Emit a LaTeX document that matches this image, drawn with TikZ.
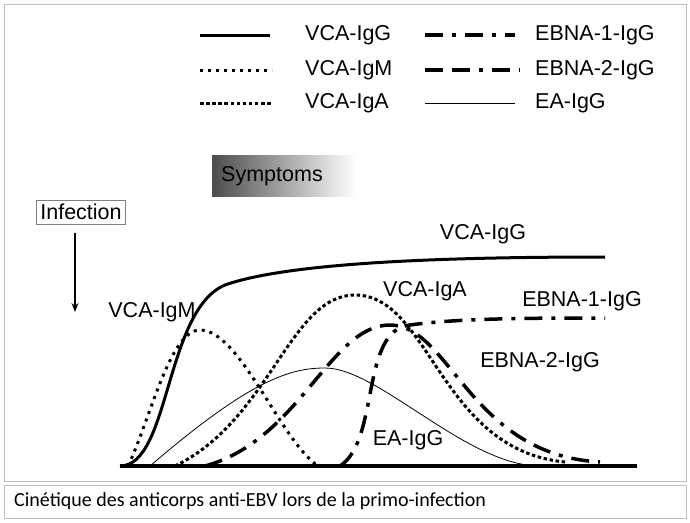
\documentclass[tikz,border=0pt]{standalone}
\usepackage{fontspec}
\setmainfont{Liberation Sans}
\newfontfamily\capfont{Carlito}
\usetikzlibrary{arrows.meta,positioning}

\tikzset{
  igg/.style={line width=3pt},
  igm/.style={line width=3pt,dash pattern=on 3pt off 5pt},
  iga/.style={line width=3pt,dash pattern=on 3.5pt off 2.6pt},
  ebnaone/.style={line width=3.5pt,dash pattern=on 18pt off 9pt on 4pt off 9pt},
  ebnatwo/.style={line width=3.5pt,dash pattern=on 18pt off 9pt on 18pt off 9pt on 4pt off 9pt},
  eaigg/.style={line width=0.8pt},
  lbl/.style={font=\fontsize{21.5}{24}\selectfont,inner sep=0pt},
}

\begin{document}
\begin{tikzpicture}[x=1pt,y=-1pt]
  \useasboundingbox (0,0) rectangle (690,522);
  \draw[gray!50] (4,4) rectangle (686,481);
  \draw[gray!50] (4,485) rectangle (686,518);
  \node[anchor=west,inner sep=0pt] (caption) at (14,501) {\capfont\fontsize{20}{22}\selectfont Cinétique des anticorps anti-EBV lors de la primo-infection};

  % legend
  \draw[igg] (200,35) -- (270,35);
  \node[lbl,anchor=west] (l1) at (305,35) {VCA-IgG};
  \draw[igm] (200,70) -- (272,70);
  \node[lbl,anchor=west] (l2) at (305,70) {VCA-IgM};
  \draw[iga] (200,103) -- (272,103);
  \node[lbl,anchor=west] (l3) at (305,103) {VCA-IgA};
  \draw[ebnaone] (425,35) -- (515,35);
  \node[lbl,anchor=west] (l4) at (535,35) {EBNA-1-IgG};
  \draw[ebnatwo] (425,70) -- (520,70);
  \node[lbl,anchor=west] (l5) at (535,70) {EBNA-2-IgG};
  \draw[eaigg] (425,103) -- (515,103);
  \node[lbl,anchor=west] (l6) at (535,103) {EA-IgG};

  % symptoms and infection
  \shade[left color=black!70,right color=white] (212,155) rectangle (356,196);
  \node[lbl] (symptoms) at (272,176) {Symptoms};
  \node[lbl,draw=gray,inner sep=4pt] (infection) at (81,212) {Infection};
  \coordinate (inf_end) at (75,312);
  \draw[-{Stealth[length=9pt,width=7pt]},line width=1.3pt] (75,233) -- (inf_end);

  % curves
  \draw[eaigg] (150,466) .. controls (250,380) and (290,368) .. (325,368)
                          .. controls (380,368) and (470,470) .. (545,466);
  \draw[igm] (128,466) .. controls (150,420) and (170,330) .. (200,330)
                        .. controls (240,330) and (280,440) .. (318,466);
  \draw[iga] (175,466) .. controls (270,420) and (290,295) .. (355,295)
                        .. controls (430,295) and (440,450) .. (565,462);
  \draw[ebnatwo] (205,466) .. controls (300,440) and (330,325) .. (390,325)
                           .. controls (450,325) and (470,455) .. (600,462);
  \draw[ebnaone] (340,466) .. controls (380,440) and (360,330) .. (410,325)
                           .. controls (460,318) and (540,318) .. (605,318);
  \draw[igg] (120,466) .. controls (170,466) and (165,310) .. (225,285)
                        .. controls (290,262) and (450,257) .. (605,257);
  \draw[line width=3.5pt] (120,466) -- (637,466);

  % curve labels
  \node[lbl] (t_igg) at (483,234) {VCA-IgG};
  \node[lbl] (t_igm) at (152,312) {VCA-IgM};
  \node[lbl] (t_iga) at (425,291) {VCA-IgA};
  \node[lbl] (t_e1) at (582,301) {EBNA-1-IgG};
  \node[lbl] (t_e2) at (540,362) {EBNA-2-IgG};
  \node[lbl] (t_ea) at (408,440) {EA-IgG};
\end{tikzpicture}
\end{document}
